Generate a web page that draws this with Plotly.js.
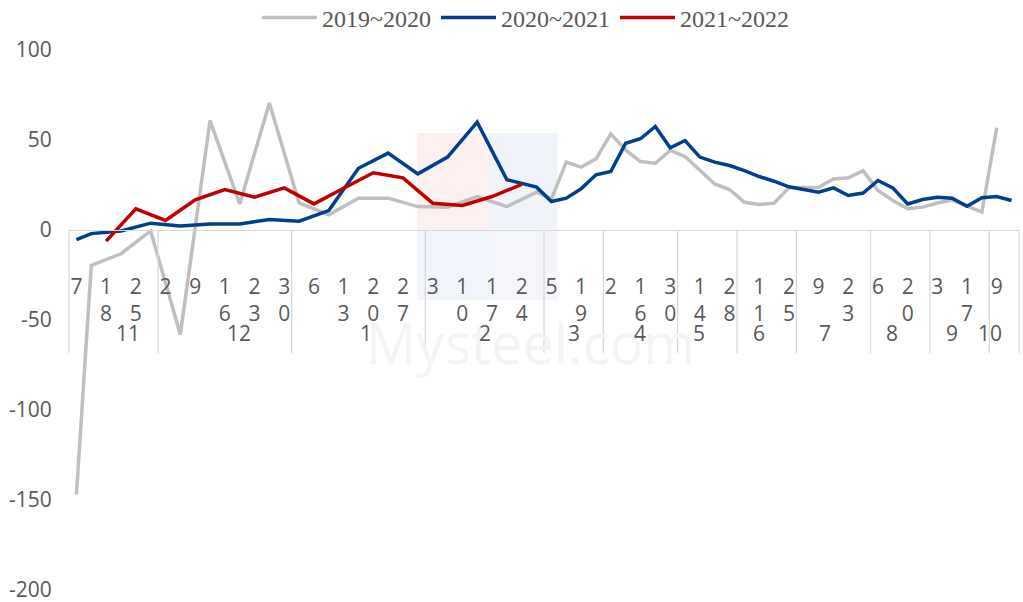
<!DOCTYPE html>
<html><head><meta charset="utf-8">
<script src="https://cdn.plot.ly/plotly-3.0.1.min.js"></script>
<style>html,body{margin:0;padding:0;background:#fff}#chart{width:1023px;height:602px}</style>
</head><body><div id="chart"></div>
<script>
// month groups of the category axis
const monthNames  = ['11','12','1','2','3','4','5','6','7','8','9','10'];
const monthCounts = [6, 9, 9, 8, 4, 5, 4, 4, 5, 4, 4, 2];

// inner (day) tick labels, '' = label not shown
const dayLabels = [
  '7','','18','','25','',
  '2','','9','','16','','23','','30',
  '','6','','13','','20','','27','',
  '3','','10','','17','','24','',
  '5','','19','',
  '2','','16','','30',
  '','14','','28',
  '','11','','25',
  '','9','','23','',
  '6','','20','',
  '3','','17','',
  '9',''
];

const seriesNames = ['2019~2020', '2020~2021', '2021~2022'];

const s2019 = [
  -147, -19.7, null, -13.2, null, -0.5,
  null, -58, null, 60.8, null, 14.5, null, 70.5, null,
  15, null, 8.5, null, 17.7, null, 17.7, null, 13,
  null, 12.7, null, 18.6, null, 13, null, 21,
  17.3, 37.7, 34.9, 39.5,
  53.4, 44.5, 38, 37.1, 44.2,
  40.8, 33, 25.6, 22.5,
  15.4, 14.2, 14.9, 23.5,
  23.8, 23.8, 28.4, 29, 33,
  21.9, 16.4, 11.8, 12.7,
  15, 16.6, 13.2, 9.9,
  56.8, null
];

const s2020 = [
  -5.4, -2, null, -0.5, null, 3.8,
  null, 2.2, null, 3.4, null, 3.4, null, 5.8, null,
  4.9, null, 10.8, null, 34.3, null, 42.7, null, 31.2,
  null, 40.5, null, 59.9, null, 27.9, null, 23.8,
  15.8, 17.7, 22.9, 30.7,
  32.5, 48.2, 50.7, 57.5, 45.7,
  49.7, 40.5, 37.7, 35.8,
  33, 29.7, 27.1, 24,
  22.5, 21, 23.4, 19.2, 20.5,
  27.5, 23.4, 14.5, 16.9,
  18.2, 17.7, 13.2, 17.9,
  18.6, 16.4
];

const s2021 = [
  null, null, -6.2, null, 11.8, null,
  5.3, null, 16.8, null, 22.5, null, 18.2, null, 23.4,
  null, 14.5, null, 23.2, null, 31.8, null, 29, null,
  14.9, null, 13.6, null, 18.6, null, 25.3, null
];

const yTicks = [-200, -150, -100, -50, 0, 50, 100];

// ---- build category keys
const cats = [];
monthNames.forEach((m, k) => { for (let j = 0; j < monthCounts[k]; j++) { cats.push(m + '-' + cats.length); } });
const N = cats.length;

const tickVals = [], tickText = [];
dayLabels.forEach((d, i) => { if (d !== '') { tickVals.push(cats[i]); tickText.push(d.split('').join('<br>')); } });

const yMin = yTicks[0], yMax = yTicks[yTicks.length - 1];
const zeroFrac = (0 - yMin) / (yMax - yMin);

const colors = ['#bfbfbf', '#003f8e', '#c00000'];
const data = [s2019, s2020, s2021].map((s, k) => ({
  type: 'scatter', mode: 'lines', name: seriesNames[k],
  x: cats.slice(0, s.length), y: s, connectgaps: true,
  line: {color: colors[k], width: 3.5}, hoverinfo: 'skip'
}));

const W = 1023, H = 602;
const L = 69, R = 1019, T = 50, B = 590;
const divDepth = 123 / (B - T);
const shapes = [];
const annotations = [];
// faint watermark
const wm = [
  {x0: 417, x1: 489, y0: 133, y1: 229, c: '#fcf0f0'},
  {x0: 489, x1: 557, y0: 133, y1: 229, c: '#f0f3fa'},
  {x0: 417, x1: 489, y0: 229, y1: 300, c: '#f1f4fa'},
  {x0: 489, x1: 557, y0: 229, y1: 300, c: '#f4f6fb'}
];
wm.forEach(r => shapes.push({type: 'rect', xref: 'paper', yref: 'paper', layer: 'below',
  x0: (r.x0 - L) / (R - L), x1: (r.x1 - L) / (R - L), y0: (B - r.y1) / (B - T), y1: (B - r.y0) / (B - T),
  fillcolor: r.c, line: {width: 0}}));
annotations.push({xref: 'paper', yref: 'paper', x: (530 - L) / (R - L), y: (B - 342) / (B - T),
  text: 'Mysteel.com', showarrow: false, font: {family: 'Open Sans', size: 56, color: '#f4f4f4'}});

let start = 0;
shapes.push({type: 'line', xref: 'paper', yref: 'paper', x0: 0, x1: 0, y0: zeroFrac, y1: zeroFrac - divDepth,
  line: {color: '#d9d9d9', width: 1.3}});
monthNames.forEach((m, k) => {
  const end = start + monthCounts[k];
  shapes.push({type: 'line', xref: 'paper', yref: 'paper', x0: end / N, x1: end / N, y0: zeroFrac, y1: zeroFrac - divDepth,
    line: {color: '#d9d9d9', width: 1.3}});
  annotations.push({xref: 'paper', yref: 'paper', x: (start + monthCounts[k] / 2) / N, y: zeroFrac, yshift: -103,
    yanchor: 'middle', text: m, showarrow: false, font: {family: 'Open Sans', size: 21, color: '#595959'}});
  start = end;
});

const layout = {
  width: W, height: H,
  margin: {l: L, r: W - R, t: T, b: H - B, autoexpand: false},
  paper_bgcolor: '#fff', plot_bgcolor: 'rgba(0,0,0,0)',
  showlegend: true,
  legend: {orientation: 'h', xref: 'container', yref: 'container',
    x: 257 / W, xanchor: 'left', y: 1 - 18 / H, yanchor: 'middle',
    font: {family: 'Liberation Serif', size: 24, color: '#595959'}, itemwidth: 55, bgcolor: 'rgba(0,0,0,0)'},
  xaxis: {
    type: 'category', categoryorder: 'array', categoryarray: cats,
    range: [-0.5, N - 0.5],
    tickmode: 'array', tickvals: tickVals, ticktext: tickText, tickangle: 0,
    anchor: 'free', position: zeroFrac,
    showline: true, linecolor: '#d9d9d9', linewidth: 1.3,
    ticks: '', ticklabelstandoff: 37,
    showgrid: false, zeroline: false,
    tickfont: {family: 'Open Sans', size: 21, color: '#595959'}
  },
  yaxis: {
    range: [yMin, yMax], tickmode: 'array', tickvals: yTicks, ticktext: yTicks.map(String),
    showgrid: false, zeroline: false, showline: false, automargin: false,
    ticks: 'outside', ticklen: 12, tickcolor: 'rgba(0,0,0,0)', ticklabeloverflow: 'allow',
    tickfont: {family: 'Open Sans', size: 21, color: '#595959'}
  },
  shapes: shapes, annotations: annotations
};

Plotly.newPlot('chart', data, layout, {staticPlot: true});
</script>
</body></html>
